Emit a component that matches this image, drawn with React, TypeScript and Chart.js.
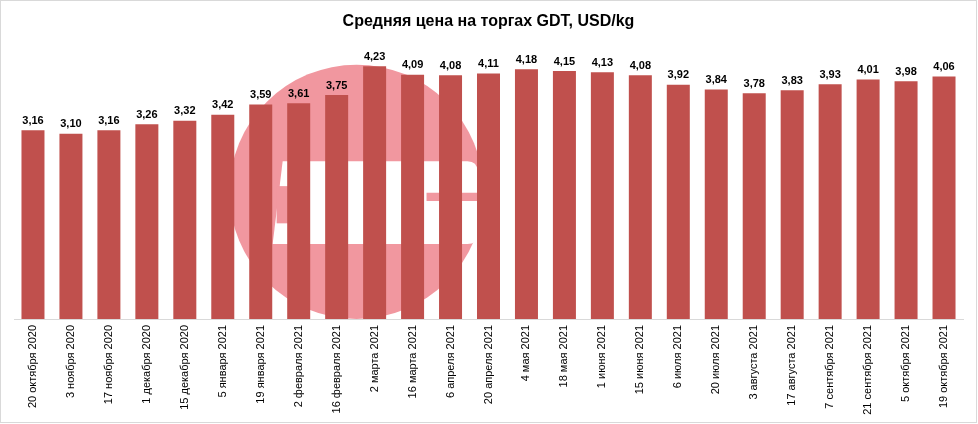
import { useEffect, useRef } from "react";
import { Chart, registerables } from "chart.js";

Chart.register(...registerables);

const chartTitle = "Средняя цена на торгах GDT, USD/kg";

const categories = [
  "20 октября 2020",
  "3 ноября 2020",
  "17 ноября 2020",
  "1 декабря 2020",
  "15 декабря 2020",
  "5 января 2021",
  "19 января 2021",
  "2 февраля 2021",
  "16 февраля 2021",
  "2 марта 2021",
  "16 марта 2021",
  "6 апреля 2021",
  "20 апреля 2021",
  "4 мая 2021",
  "18 мая 2021",
  "1 июня 2021",
  "15 июня 2021",
  "6 июля 2021",
  "20 июля 2021",
  "3 августа 2021",
  "17 августа 2021",
  "7 сентября 2021",
  "21 сентября 2021",
  "5 октября 2021",
  "19 октября 2021",
];

const prices = [
  3.16, 3.1, 3.16, 3.26, 3.32, 3.42, 3.59, 3.61, 3.75, 4.23, 4.09, 4.08, 4.11,
  4.18, 4.15, 4.13, 4.08, 3.92, 3.84, 3.78, 3.83, 3.93, 4.01, 3.98, 4.06,
];

const yMin = 0;
const yMax = 4.5;

const frameAndWatermark = {
  id: "frameAndWatermark",
  beforeDraw(chart: any) {
    const { ctx, width, height } = chart;
    ctx.save();
    ctx.fillStyle = "#ffffff";
    ctx.fillRect(0, 0, width, height);
    ctx.strokeStyle = "#d9d9d9";
    ctx.lineWidth = 1;
    ctx.strokeRect(0.5, 0.5, width - 2, height - 2);
    ctx.restore();
  },
  beforeDatasetsDraw(chart: any) {
    const { ctx, chartArea } = chart;
    const w = chartArea.right - chartArea.left;
    const h = chartArea.bottom - chartArea.top;
    const cx = chartArea.left + w * 0.361;
    const cy = chartArea.top + h * 0.527;
    const r = w * 0.134;
    ctx.save();
    ctx.fillStyle = "#f1979f";
    ctx.beginPath();
    ctx.arc(cx, cy, r, 0, Math.PI * 2);
    ctx.fill();
    // rough white logo band inside the watermark circle
    const x0 = cx - r * 0.66;
    const x1 = cx + r * 0.95;
    const y0 = cy - r * 0.24;
    const y1 = cy + r * 0.41;
    ctx.fillStyle = "#ffffff";
    ctx.beginPath();
    ctx.moveTo(x0 + 10, y0);
    ctx.lineTo(x1 - 10, y0);
    ctx.quadraticCurveTo(x1, y0, x1, y0 + 10);
    ctx.lineTo(x1, y1 - 10);
    ctx.quadraticCurveTo(x1, y1, x1 - 10, y1);
    ctx.lineTo(x0, y1);
    ctx.closePath();
    ctx.fill();
    ctx.fillStyle = "#f1979f";
    ctx.fillRect(x0 + 4, y0 + (y1 - y0) * 0.3, 18, (y1 - y0) * 0.45);
    ctx.fillRect(cx + r * 0.55, y0 + (y1 - y0) * 0.38, r * 0.4, (y1 - y0) * 0.1);
    ctx.restore();
  },
};

const valueLabels = {
  id: "valueLabels",
  afterDatasetsDraw(chart: any) {
    const { ctx } = chart;
    const meta = chart.getDatasetMeta(0);
    ctx.save();
    ctx.font = "bold 11px 'Liberation Sans', Arial, sans-serif";
    ctx.fillStyle = "#000000";
    ctx.textAlign = "center";
    ctx.textBaseline = "bottom";
    meta.data.forEach((bar: any, i: number) => {
      const txt = prices[i].toFixed(2).replace(".", ",");
      ctx.fillText(txt, bar.x, bar.y - 4);
    });
    ctx.restore();
  },
};

export default function App() {
  const canvasRef = useRef<HTMLCanvasElement | null>(null);

  useEffect(() => {
    const canvas = canvasRef.current;
    if (!canvas) return;
    const chart = new Chart(canvas, {
      type: "bar",
      data: {
        labels: categories,
        datasets: [
          {
            data: prices,
            backgroundColor: "#c0504d",
            borderWidth: 0,
            categoryPercentage: 1,
            barPercentage: 0.606,
          },
        ],
      },
      options: {
        animation: false,
        responsive: false,
        devicePixelRatio: 1,
        layout: { padding: { left: 14, right: 15, top: 0, bottom: 0 } },
        plugins: {
          legend: { display: false },
          tooltip: { enabled: false },
          title: {
            display: true,
            text: chartTitle,
            color: "#000000",
            font: { family: "'Liberation Sans', Arial, sans-serif", size: 16, weight: "bold" },
            padding: { top: 12, bottom: 19 },
          },
        },
        scales: {
          y: { display: false, min: yMin, max: yMax },
          x: {
            grid: { display: false, drawTicks: false },
            border: { display: true, color: "#d9d9d9", width: 1 },
            ticks: {
              minRotation: 90,
              maxRotation: 90,
              autoSkip: false,
              padding: 6,
              color: "#000000",
              font: { family: "'Liberation Sans', Arial, sans-serif", size: 11 },
            },
            afterFit(scale: any) {
              scale.height = 105;
            },
          },
        },
      },
      plugins: [frameAndWatermark, valueLabels],
    });
    return () => chart.destroy();
  }, []);

  return (
    <div style={{ position: "absolute", left: 0, top: 0, width: 978, height: 424 }}>
      <canvas ref={canvasRef} width={978} height={424} style={{ width: 978, height: 424, display: "block" }} />
    </div>
  );
}
